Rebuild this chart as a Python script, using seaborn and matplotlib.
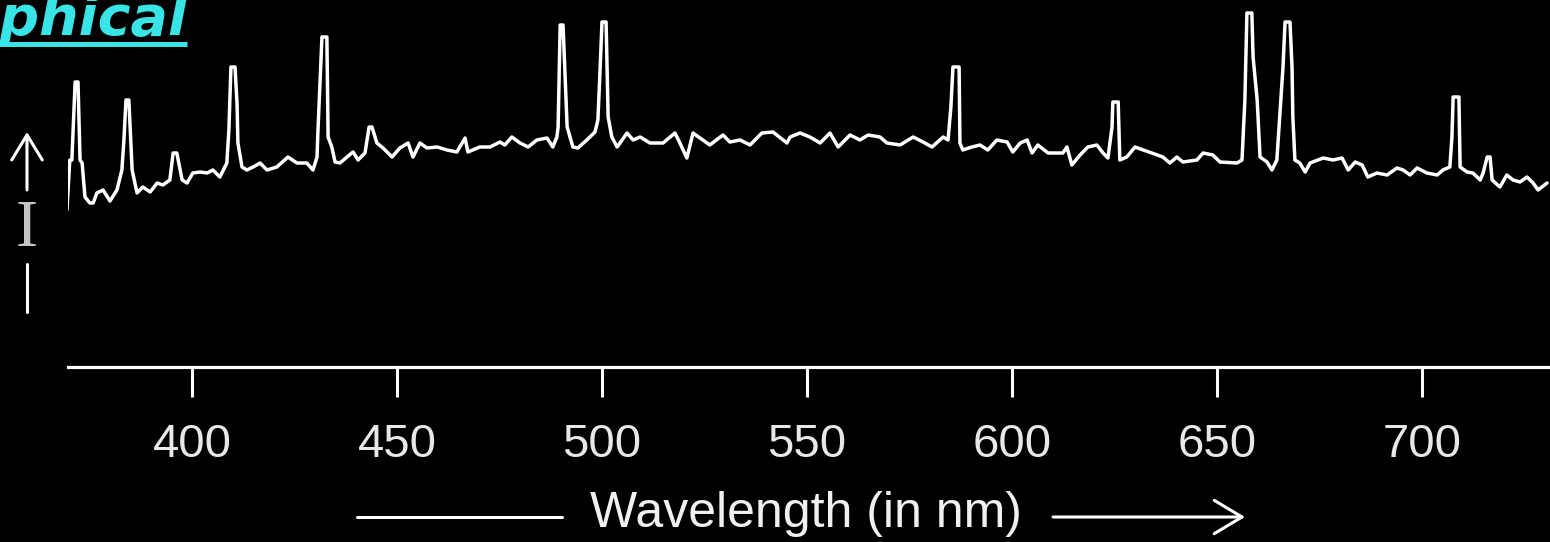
import matplotlib
matplotlib.use("Agg")
import matplotlib.pyplot as plt
from matplotlib.lines import Line2D
import seaborn as sns
import pandas as pd

# ---- data ----
wavelength = [369.5, 370.2, 370.7, 371.5, 372.2, 372.7, 373.2, 373.9, 375.1, 375.9,
              376.8, 378.3, 380.0, 381.7, 382.9, 383.4, 383.9, 384.6, 385.4, 386.6,
              388.0, 389.8, 391.5, 392.9, 394.6, 395.4, 396.3, 397.6, 398.8, 400.2,
              402.0, 403.7, 405.1, 406.8, 408.5, 409.0, 409.5, 410.5, 411.0, 411.2,
              412.2, 413.4, 414.9, 416.6, 418.3, 420.7, 423.4, 425.6, 428.0, 429.5,
              430.5, 430.7, 431.7, 432.9, 433.2, 434.1, 434.9, 436.1, 437.8, 439.3,
              440.5, 442.2, 443.2, 443.9, 445.1, 446.6, 448.8, 450.7, 452.7, 453.9,
              455.6, 457.3, 459.8, 462.2, 464.6, 466.6, 467.3, 470.2, 472.7, 475.1,
              476.3, 478.0, 480.0, 482.0, 484.1, 486.6, 488.0, 489.0, 489.3, 489.8,
              490.5, 491.0, 491.5, 492.2, 492.9, 494.1, 496.3, 498.3, 499.0, 499.5,
              500.0, 501.0, 501.5, 502.4, 503.7, 506.1, 507.6, 509.3, 511.7, 514.9,
              517.8, 519.0, 520.7, 522.2, 524.6, 526.3, 529.5, 531.2, 533.7, 536.1,
              539.0, 541.7, 545.1, 545.9, 548.3, 550.7, 553.2, 555.6, 557.6, 560.5,
              562.9, 564.9, 567.8, 569.5, 572.7, 575.9, 578.3, 580.5, 583.2, 584.4,
              585.1, 585.6, 587.1, 587.3, 588.0, 590.2, 592.2, 594.1, 596.3, 598.8,
              600.2, 602.0, 603.7, 604.9, 606.3, 608.8, 612.4, 613.4, 614.6, 616.6,
              618.5, 620.7, 622.2, 623.4, 624.4, 624.6, 625.9, 626.1, 626.3, 628.0,
              630.0, 632.0, 634.1, 636.8, 638.5, 640.2, 641.7, 645.1, 646.6, 649.0,
              650.7, 654.9, 656.1, 656.8, 657.3, 658.5, 658.8, 659.8, 660.5, 662.2,
              663.4, 664.6, 665.4, 666.1, 666.6, 667.8, 668.3, 668.5, 669.0, 670.2,
              671.5, 672.7, 674.6, 675.9, 678.3, 680.5, 682.0, 683.7, 685.4, 686.8,
              689.0, 691.5, 693.9, 695.4, 697.1, 698.8, 701.2, 703.7, 705.1, 706.8,
              707.3, 707.6, 709.0, 709.3, 711.0, 712.4, 714.2, 714.9, 715.9, 716.6,
              717.1, 719.0, 720.7, 722.2, 723.9, 725.6, 727.1, 728.3, 730.5]
intensity = [157, 207, 207, 285, 285, 207, 204, 170, 164, 164,
             174, 177, 166, 177, 197, 227, 267, 267, 197, 174,
             180, 175, 184, 182, 187, 214, 214, 187, 184, 194,
             195, 194, 197, 190, 204, 237, 300, 300, 262, 224,
             200, 197, 200, 204, 197, 200, 210, 204, 204, 197,
             210, 234, 330, 330, 230, 220, 205, 204, 210, 215,
             207, 214, 240, 240, 224, 219, 210, 219, 224, 210,
             224, 219, 220, 217, 215, 229, 215, 220, 220, 225,
             222, 230, 224, 220, 227, 229, 220, 230, 240, 342,
             342, 290, 240, 230, 220, 219, 227, 235, 247, 294,
             345, 345, 250, 230, 220, 234, 227, 230, 224, 224,
             234, 224, 209, 234, 227, 222, 232, 225, 227, 222,
             234, 235, 224, 230, 234, 230, 224, 234, 220, 232,
             227, 232, 230, 224, 222, 230, 225, 220, 230, 227,
             260, 300, 300, 224, 217, 220, 222, 217, 227, 225,
             215, 224, 227, 214, 222, 214, 214, 220, 202, 212,
             220, 222, 214, 209, 240, 265, 265, 234, 207, 210,
             220, 217, 214, 210, 204, 210, 205, 207, 214, 212,
             205, 204, 207, 267, 354, 354, 310, 267, 210, 205,
             197, 207, 257, 300, 345, 345, 300, 250, 207, 204,
             195, 204, 207, 209, 207, 209, 197, 205, 202, 190,
             194, 192, 199, 197, 192, 199, 194, 192, 197, 200,
             230, 270, 270, 200, 195, 194, 187, 194, 210, 210,
             187, 180, 192, 187, 185, 190, 184, 177, 184]
tick_values = [400, 450, 500, 550, 600, 650, 700]
tick_labels = ["400", "450", "500", "550", "600", "650", "700"]

df = pd.DataFrame({"wavelength": wavelength, "intensity": intensity})

sns.set_theme(style="dark")
plt.rcParams["font.family"] = ["Liberation Sans", "DejaVu Sans"]

W, H = 1550, 542
fig = plt.figure(figsize=(W / 100, H / 100), dpi=100, facecolor="black")
ax = fig.add_axes([68 / W, 175 / H, 1482 / W, 367 / H])
ax.set_facecolor("black")

sns.lineplot(data=df, x="wavelength", y="intensity", ax=ax, color="white",
             linewidth=2.5, estimator=None, sort=False)

ax.set_xlim(369.76, 731.22)
ax.set_ylim(0, 367)
for s in ["left", "top", "right"]:
    ax.spines[s].set_visible(False)
ax.spines["bottom"].set_color("white")
ax.spines["bottom"].set_linewidth(2.3)
ax.set_yticks([])
ax.set_ylabel("")
ax.grid(False)
ax.set_xticks(tick_values)
ax.set_xticklabels(tick_labels)
ax.tick_params(axis="x", direction="out", length=21.5, width=2.2, color="white",
               labelcolor="#e8e8e8", labelsize=34, pad=19, bottom=True)

ax.set_xlabel("Wavelength (in nm)", fontsize=36, color="#f0f0f0")
ax.xaxis.set_label_coords((806 - 68) / 1482, -0.338)

# arrows beside the axis label (figure pixel coords, origin bottom-left)
fig.add_artist(Line2D([357 / W, 562 / W], [(H - 517) / H] * 2,
                      color="white", linewidth=2.2))
ax.annotate("", xy=(1245, H - 517), xycoords="figure pixels",
            xytext=(1053, H - 517), textcoords="figure pixels",
            arrowprops=dict(arrowstyle="->,head_length=1.0,head_width=0.6",
                            color="white", lw=2.2, mutation_scale=20,
                            shrinkA=0, shrinkB=0))

# vertical intensity marker on the left
ax.annotate("", xy=(27, H - 132), xycoords="figure pixels",
            xytext=(27, H - 190), textcoords="figure pixels",
            arrowprops=dict(arrowstyle="->,head_length=0.9,head_width=0.55",
                            color="white", lw=2.2, mutation_scale=20,
                            shrinkA=0, shrinkB=0))
fig.text(27 / W, (H - 230) / H, "I", fontsize=48, color="#c4c4c4",
         family=["Liberation Serif", "DejaVu Serif"], ha="center", va="center")
fig.add_artist(Line2D([27 / W, 27 / W], [(H - 312) / H, (H - 264) / H],
                      color="white", linewidth=2.2))

# cut-off title at the top left (cut off in the reference as well)
fig.text(187 / W, (H - 35) / H, "Graphical", fontsize=40, color="#38e4e6",
         family=["DejaVu Sans"], weight="bold", style="italic",
         ha="right", va="baseline")
fig.add_artist(Line2D([0, 187 / W], [(H - 44) / H] * 2, color="#38e4e6",
                      linewidth=3.6, solid_capstyle="butt"))

fig.savefig("out.png", dpi=100, facecolor="black")
